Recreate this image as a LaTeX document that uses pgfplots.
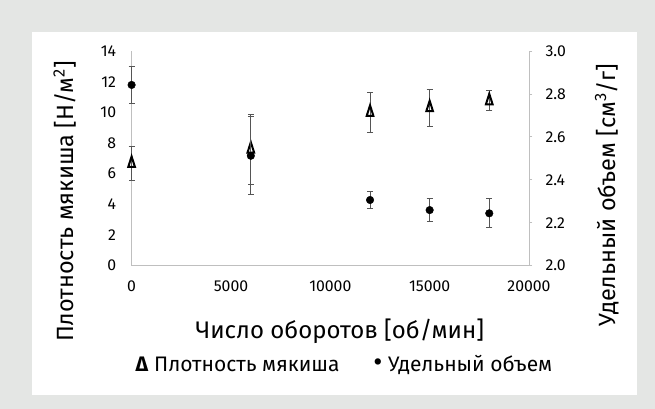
\documentclass[border=0pt]{standalone}
\usepackage{pgfplots}
\pgfplotsset{compat=1.18}
\usepackage{fontspec}
\setmainfont{Fira Sans}
\definecolor{bggray}{HTML}{E4E6E4}
\definecolor{axgray}{HTML}{BFBFBF}
\definecolor{errgray}{HTML}{555555}
\begin{document}
\begin{tikzpicture}[x=1pt,y=1pt]
\fill[bggray] (0,0) rectangle (655,409);
\fill[white] (32,14) rectangle (637,377);
\pgfplotsset{
  common/.style={
    at={(131.6pt,143.3pt)}, anchor=south west, scale only axis,
    width=397.4pt, height=214.7pt,
    xmin=0, xmax=20000,
    axis line style={axgray, line width=0.8pt},
    tick label style={font=\fontsize{15.8}{17}\selectfont},
    /pgf/number format/assume math mode=true,
    clip=false,
  },
}
\begin{axis}[common,
  ymin=0, ymax=14, ytick={0,2,...,14},
  xtick={0,5000,...,20000},
  scaled x ticks=false,
  /pgf/number format/1000 sep={},
  axis x line*=bottom, axis y line*=left,
  major tick length=0pt,
  yticklabel style={xshift=-12pt},
  xticklabel style={yshift=-12pt},
  xlabel={Число оборотов [об/мин]},
  xlabel style={font=\fontsize{24}{28}\selectfont, at={(axis description cs:0.524,-0.305)}, anchor=center},
  ylabel={Плотность мякиша [Н/м\textsuperscript{2}]},
  ylabel style={font=\fontsize{23.5}{28}\selectfont, at={(axis description cs:-0.168,0.299)}, anchor=center, rotate=0},
]
\addplot[only marks, mark=triangle, mark size=7pt, mark options={xscale=0.55, line width=2pt, black},
  error bars/.cd, y dir=both, y explicit,
  error bar style={errgray, line width=1pt},
  error mark options={rotate=90, mark size=3pt, line width=1pt, errgray}]
coordinates {
(0,6.67) +- (0,1.1)
(6000,7.6) +- (0,2.28)
(12000,10.0) +- (0,1.29)
(15000,10.3) +- (0,1.2)
(18000,10.75) +- (0,0.65)
};
\end{axis}
\begin{axis}[common,
  ymin=2, ymax=3, ytick={2,2.2,...,3.01},
  /pgf/number format/fixed, /pgf/number format/fixed zerofill, /pgf/number format/precision=1,
  axis y line*=right, axis x line=none,
  ytick style={axgray, line width=0.8pt},
  major tick length=3pt,
  tick align=outside,
  yticklabel style={xshift=10pt},
  ylabel={Удельный объем [см\textsuperscript{3}/г]},
  ylabel style={font=\fontsize{23.5}{28}\selectfont, at={(axis description cs:1.196,0.329)}, anchor=center, rotate=0},
]
\addplot[only marks, mark=*, mark size=3.8pt, mark options={black},
  error bars/.cd, y dir=both, y explicit,
  error bar style={errgray, line width=1pt},
  error mark options={rotate=90, mark size=3pt, line width=1pt, errgray}]
coordinates {
(0,2.842) +- (0,0.088)
(6000,2.512) +- (0,0.182)
(12000,2.306) +- (0,0.04)
(15000,2.259) +- (0,0.053)
(18000,2.244) +- (0,0.068)
};
\end{axis}
\node[font=\fontsize{21}{24}\selectfont, anchor=center] at (344,44) {\textbf{Δ} Плотность мякиша\hspace{34pt}{\fontsize{28}{24}\selectfont •} Удельный объем};
\end{tikzpicture}
\end{document}
